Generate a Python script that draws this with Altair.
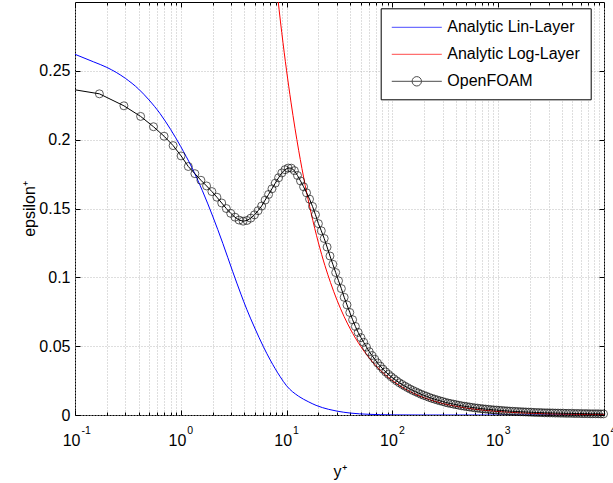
import altair as alt
import pandas as pd

# ---------------- data ----------------
series_names = ["Analytic Lin-Layer", "Analytic Log-Layer", "OpenFOAM"]

lin_yplus = [0.1, 0.15, 0.2, 0.3, 0.4, 0.5, 0.636, 0.8, 1.0, 1.27, 1.6, 2.0, 2.5,
             3.1, 3.7, 4.2, 5.0, 6.0, 7.0, 8.7, 10, 13, 16, 19, 25, 30, 40, 60,
             100, 200, 10000]
lin_eps = [0.262, 0.2565, 0.2525, 0.2445, 0.2367, 0.2289, 0.219, 0.2075, 0.1949,
           0.1799, 0.1629, 0.1445, 0.1245, 0.104, 0.0878, 0.0768, 0.0632, 0.050,
           0.040, 0.0278, 0.0212, 0.0136, 0.0097, 0.0070, 0.0041, 0.0028, 0.0014,
           0.0005, 0.0001, 0.0, 0.0]

log_yplus = [8, 9, 10, 11, 12, 13, 15, 17, 20, 23, 26, 30, 35, 40, 50, 60, 70, 85,
             100, 130, 160, 200, 250, 300, 400, 500, 700, 1000, 1500, 2000, 3000,
             5000, 7000, 10000]
log_eps = [0.3125, 0.2778, 0.2500, 0.2273, 0.2083, 0.1923, 0.1667, 0.1471, 0.1250,
           0.1087, 0.0962, 0.0833, 0.0714, 0.0625, 0.0500, 0.0417, 0.0357, 0.0294,
           0.0250, 0.0192, 0.0156, 0.0125, 0.0100, 0.0083, 0.0063, 0.0050, 0.0036,
           0.0025, 0.0017, 0.00125, 0.00083, 0.0005, 0.00036, 0.00025]

# OpenFOAM: start of the line at the left edge (no marker) and cell-centre points
of_wall_yplus = [0.1]
of_wall_eps = [0.2362]
of_yplus = [0.17, 0.29, 0.417, 0.552, 0.695, 0.846, 1.007, 1.177, 1.358, 1.549,
            1.752, 1.967, 2.194, 2.436, 2.692, 2.963, 3.251, 3.556, 3.879, 4.221,
            4.584, 4.969, 5.377, 5.809, 6.268, 6.754, 7.269, 7.815, 8.393, 9.007,
            9.657,
            10.35, 11.08, 11.85, 12.67, 13.54, 14.47, 15.44, 16.48, 17.58, 18.74, 19.98,
            21.28, 22.67, 24.14, 25.70, 27.35, 29.10, 30.96,
            32.93, 35.01, 37.22, 39.56, 42.05, 44.68, 47.47, 50.43, 53.56, 56.89, 60.41,
            64.15, 68.11, 72.30, 76.75, 81.46, 86.46, 91.76, 97.38,
            103.3, 109.6, 116.3, 123.4, 130.9, 138.9, 147.3, 156.3, 165.8, 175.8, 186.5, 197.8,
            209.8, 222.5, 235.9, 250.2, 265.3, 281.3, 298.3, 316.3, 335.4, 355.7, 377.1, 399.8,
            423.9, 449.5, 476.6, 505.3, 535.7, 567.9, 602.1, 638.4, 676.8, 717.5, 760.7,
            806.4, 854.9, 906.3, 960.8,
            1019, 1080, 1145, 1214, 1286, 1364, 1446, 1533, 1625, 1722, 1825, 1935,
            2051, 2175, 2305, 2444, 2590, 2746, 2911, 3085, 3271, 3467, 3675, 3896,
            4130, 4377, 4640, 4919, 5214, 5527, 5859, 6210, 6583, 6978, 7397, 7841,
            8311, 8810, 9339, 9899]
of_eps = [0.2333, 0.2246, 0.2169, 0.2094, 0.2025, 0.1957, 0.1882, 0.1805, 0.1753, 0.1705,
          0.1664, 0.1623, 0.1582, 0.1540, 0.1500, 0.1465, 0.1437, 0.1416, 0.1408, 0.1413,
          0.1430, 0.1454, 0.1484, 0.1518, 0.1561, 0.1602, 0.1643, 0.1684, 0.1723, 0.1758,
          0.1782,
          0.1794, 0.1793, 0.1775, 0.1740, 0.1700, 0.1658, 0.1614, 0.1568, 0.1515, 0.1455, 0.1390,
          0.1338, 0.1282, 0.1220, 0.1155, 0.1095, 0.1035, 0.0975,
          0.0918, 0.0855, 0.0800, 0.0745, 0.0692, 0.0643, 0.0600, 0.0562, 0.0528, 0.0493, 0.0460,
          0.0432, 0.0405, 0.0378, 0.0355, 0.0333, 0.0313, 0.0295, 0.0278,
          0.0263, 0.0248, 0.0234, 0.0222, 0.0210, 0.0199, 0.0188, 0.0178, 0.0169, 0.0160, 0.0151, 0.0143,
          0.0136, 0.0128, 0.0121, 0.0115, 0.0109, 0.0103, 0.0098, 0.0092, 0.0087, 0.0083, 0.0079, 0.0075,
          0.0071, 0.0067, 0.0064, 0.0061, 0.0058, 0.0055, 0.0052, 0.0050, 0.0047, 0.0045, 0.0043,
          0.0041, 0.0039, 0.0037, 0.0036,
          0.0034, 0.0033, 0.0031, 0.0030, 0.0028, 0.0027, 0.0026, 0.0025, 0.0024, 0.0023, 0.0022, 0.0021,
          0.0020, 0.0019, 0.0018, 0.0018, 0.0017, 0.0016, 0.0016, 0.0015, 0.0015, 0.0014, 0.0014, 0.0013,
          0.0013, 0.0012, 0.0012, 0.0012, 0.0011, 0.0011, 0.0011, 0.0010, 0.0010, 0.0010, 0.0009, 0.0009,
          0.0009, 0.0009, 0.0008, 0.0008]

major_ticks = [0.1, 1, 10, 100, 1000, 10000]
minor_ticks = [0.2, 0.3, 0.4, 0.5, 0.6, 0.7, 0.8, 0.9,
               2, 3, 4, 5, 6, 7, 8, 9,
               20, 30, 40, 50, 60, 70, 80, 90,
               200, 300, 400, 500, 600, 700, 800, 900,
               2000, 3000, 4000, 5000, 6000, 7000, 8000, 9000]
y_ticks = [0, 0.05, 0.1, 0.15, 0.2, 0.25]

# ---------------- tables ----------------
lin_df = pd.DataFrame({"yplus": lin_yplus, "eps": lin_eps, "series": series_names[0]})
log_df = pd.DataFrame({"yplus": log_yplus, "eps": log_eps, "series": series_names[1]})
of_df = pd.DataFrame({
    "yplus": of_wall_yplus + of_yplus,
    "eps": of_wall_eps + of_eps,
    "marker": [False] * len(of_wall_yplus) + [True] * len(of_yplus),
    "series": series_names[2],
})

FONT = "Liberation Sans"
GRID = "#bcbcbc"
xscale = alt.Scale(type="log", domain=[0.1, 10000], nice=False)
yscale = alt.Scale(domain=[0, 0.3], nice=False, zero=False)

major_js = "[" + ",".join(str(v) for v in major_ticks) + "]"

ax_x_main = alt.Axis(
    orient="bottom", values=major_ticks + minor_ticks, grid=True,
    gridColor=GRID, gridDash=[1, 2], gridWidth=1,
    ticks=False, tickSize=0, domain=False,
    labelExpr=f"indexof({major_js}, datum.value) >= 0 ? '10' : ''",
    labelAlign="right", labelOffset=5, labelBaseline="middle", labelPadding=25,
    labelFontSize=16, labelFlush=False, labelOverlap=False,
    title="y⁺", titleFontSize=16, titleY=56, titleBaseline="middle",
)
ax_x_exp = alt.Axis(
    orient="bottom", values=major_ticks, grid=False, ticks=False, tickSize=0,
    domain=False, labelExpr="'' + round(log(datum.value) / LN10)",
    labelAlign="left", labelOffset=6, labelBaseline="middle", labelPadding=15,
    labelFontSize=10.5, labelFlush=False, labelOverlap=False, title=None,
)


def tick_axis(orient, values, size):
    return alt.Axis(orient=orient, values=values, offset=-size, tickSize=size,
                    ticks=True, labels=False, domain=False, grid=False, title=None,
                    tickColor="black", tickWidth=1)


ax_y_main = alt.Axis(
    orient="left", values=y_ticks, grid=True, gridColor=GRID, gridDash=[1, 2],
    gridWidth=1, ticks=False, tickSize=0, domain=False, format="~g",
    labelPadding=5, labelFontSize=16,
    title="epsilon⁺", titleFontSize=16, titleX=-46, titleBaseline="middle",
)

# legend symbols: a 50px line, with a circle drawn from cubic curves for OpenFOAM
path_line = "M-0.95,0H5.05"
path_of = ("M-0.95,0H5.05M2.614,0C2.614,0.3115,2.3615,0.564,2.05,0.564"
           "C1.7385,0.564,1.486,0.3115,1.486,0C1.486,-0.3115,1.7385,-0.564,2.05,-0.564"
           "C2.3615,-0.564,2.614,-0.3115,2.614,0Z")

legend_kw = dict(orient="none", legendX=305.7, legendY=6.3, title=None)

lin = alt.Chart(lin_df).mark_line(color="#0000ff", strokeWidth=1, interpolate="monotone", clip=True).encode(
    x=alt.X("yplus:Q", scale=xscale, axis=ax_x_main),
    y=alt.Y("eps:Q", scale=yscale, axis=ax_y_main),
)
log = alt.Chart(log_df).mark_line(color="#ff0000", strokeWidth=1, interpolate="monotone", clip=True).encode(
    x=alt.X("yplus:Q", scale=xscale, axis=ax_x_exp),
    y=alt.Y("eps:Q", scale=yscale, axis=tick_axis("left", y_ticks, 5)),
)
of_line = alt.Chart(of_df).mark_line(color="black", strokeWidth=1).encode(
    x=alt.X("yplus:Q", scale=xscale, axis=tick_axis("bottom", major_ticks, 5)),
    y=alt.Y("eps:Q", scale=yscale, axis=tick_axis("right", y_ticks, 5)),
)
of_pts = alt.Chart(of_df).transform_filter("datum.marker").mark_point(
    shape="circle", filled=False, color="black", size=64, strokeWidth=0.9
).encode(
    x=alt.X("yplus:Q", scale=xscale, axis=tick_axis("bottom", minor_ticks, 3)),
    y=alt.Y("eps:Q", scale=yscale, axis=None),
)
legend_layer = alt.Chart(of_df).transform_filter("false").mark_point(filled=False).encode(
    x=alt.X("yplus:Q", scale=xscale, axis=tick_axis("top", major_ticks, 5)),
    y=alt.Y("eps:Q", scale=yscale, axis=None),
    color=alt.Color("series:N", scale=alt.Scale(domain=series_names, range=["#0000ff", "#ff0000", "#000000"]),
                    legend=alt.Legend(**legend_kw)),
    shape=alt.Shape("series:N", scale=alt.Scale(domain=series_names, range=[path_line, path_line, path_of]),
                    legend=alt.Legend(**legend_kw)),
)
top_minor = alt.Chart(of_df).transform_filter("false").mark_point().encode(
    x=alt.X("yplus:Q", scale=xscale, axis=tick_axis("top", minor_ticks, 3)),
    y=alt.Y("eps:Q", scale=yscale, axis=None),
)

chart = alt.layer(lin, log, of_line, of_pts, legend_layer, top_minor).resolve_axis(
    x="independent", y="independent"
).properties(
    width=529, height=413, autosize="none",
    padding={"left": 75, "top": 2, "right": 9, "bottom": 68},
    background="white",
).configure_view(stroke="black", strokeWidth=1).configure_axis(
    labelFont=FONT, titleFont=FONT, labelColor="black", titleColor="black",
    titleFontWeight="normal",
).configure_legend(
    labelFont=FONT, labelFontSize=16, labelColor="black", padding=10, rowPadding=10,
    labelOffset=38.6, symbolSize=278, symbolStrokeWidth=1, fillColor="white",
    strokeColor="black", symbolFillColor="transparent",
)

chart.save("out.html", embed_options={"renderer": "svg", "actions": False})
